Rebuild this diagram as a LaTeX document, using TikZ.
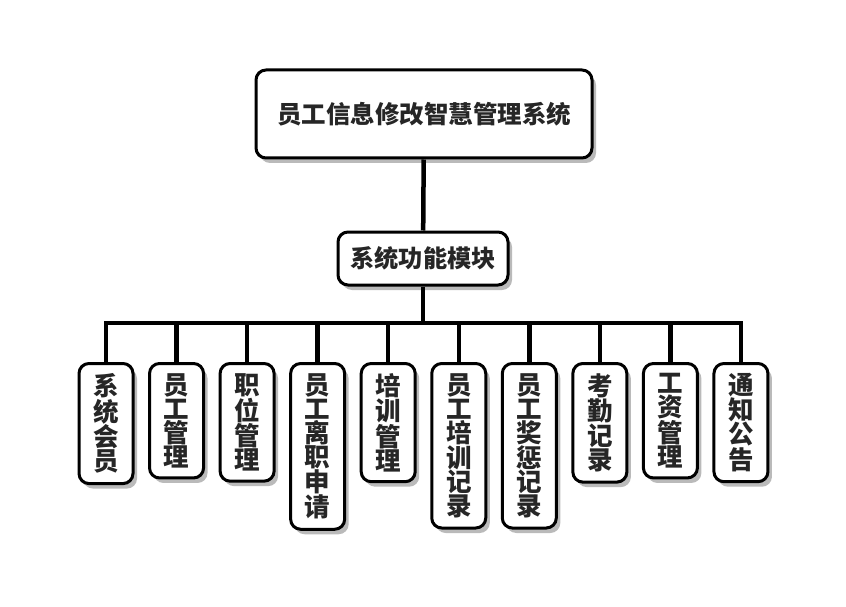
\documentclass[tikz,border=0pt]{standalone}
\usepackage{fontspec}
\newfontfamily\cjk{Noto Sans CJK SC}
\usetikzlibrary{shadows}
\begin{document}
\begin{tikzpicture}
    [x=1pt, y=1pt,
     box/.style={draw=black, line width=3pt, fill=white, rounded corners=10pt, align=center,
                 font=\cjk\bfseries, text=black!85,
                 drop shadow={shadow xshift=4pt, shadow yshift=-5pt, fill=black!45, opacity=.6}},
     leafbox/.style={box, anchor=north, minimum width=54pt, inner xsep=1pt, inner ysep=10pt,
                     font=\cjk\bfseries\fontsize{25.5}{24}\selectfont},
     conn/.style={line width=4.5pt}]
    \useasboundingbox (0,0) rectangle (846,-607);
    \node[box, minimum width=336pt, minimum height=88pt, font=\cjk\bfseries\fontsize{24.5}{26}\selectfont]
        (system) at (424,-114) {员工信息修改智慧管理系统};
    \node[box, minimum width=170pt, minimum height=53pt, font=\cjk\bfseries\fontsize{24.2}{26}\selectfont]
        (modules) at (423,-258.5) {系统功能模块};
    \coordinate (bus) at (423,-323);
    \foreach \txt [count=\i] in {{系\\统\\会\\员}, {员\\工\\管\\理}, {职\\位\\管\\理},
                                 {员\\工\\离\\职\\申\\请}, {培\\训\\管\\理}, {员\\工\\培\\训\\记\\录},
                                 {员\\工\\奖\\惩\\记\\录}, {考\\勤\\记\\录}, {工\\资\\管\\理}, {通\\知\\公\\告}}
    {
        \node[leafbox] (leaf\i) at ({106+70.55*(\i-1)},-362) {\txt};
        \draw[conn] (bus) -| (leaf\i.north);
    }
    \draw[conn] (system) -- (modules);
    \draw[conn] (modules) -- (bus);
\end{tikzpicture}
\end{document}
